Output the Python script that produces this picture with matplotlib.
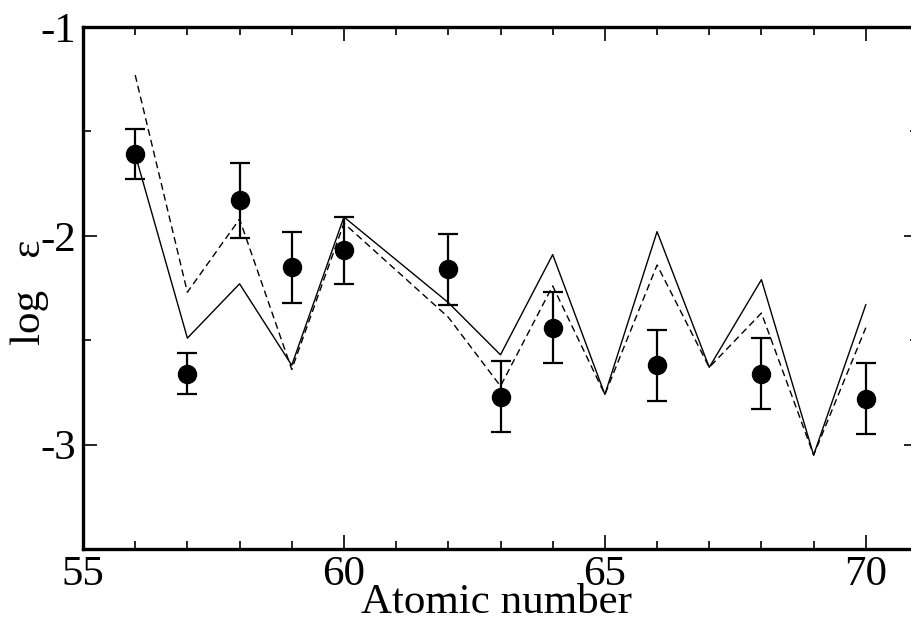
import matplotlib
matplotlib.use("Agg")
import matplotlib.pyplot as plt
from matplotlib.ticker import MultipleLocator

z_model = [56, 57, 58, 59, 60, 62, 63, 64, 65, 66, 67, 68, 69, 70]
model_solid = [-1.61, -2.49, -2.23, -2.62, -1.91, -2.32, -2.57, -2.09, -2.76, -1.98, -2.63, -2.21, -3.05, -2.33]
model_dashed = [-1.23, -2.27, -1.92, -2.64, -1.94, -2.39, -2.72, -2.24, -2.76, -2.14, -2.63, -2.37, -3.05, -2.44]

z_obs = [56, 57, 58, 59, 60, 62, 63, 64, 66, 68, 70]
obs = [-1.61, -2.66, -1.83, -2.15, -2.07, -2.16, -2.77, -2.44, -2.62, -2.66, -2.78]
obs_err = [0.12, 0.10, 0.18, 0.17, 0.16, 0.17, 0.17, 0.17, 0.17, 0.17, 0.17]

x_ticks = [55, 60, 65, 70]
y_ticks = [-1, -2, -3]

plt.rcParams['font.family'] = ['Liberation Serif', 'DejaVu Serif']

fig = plt.figure(figsize=(9.12, 6.28), dpi=100)
ax = fig.add_axes([83/912, 1-549/628, (918-83)/912, (549-27)/628])

ax.plot(z_model, model_solid, color='black', lw=1.0, ls='-')
ax.plot(z_model, model_dashed, color='black', lw=1.0, ls=(0, (5, 3)))
ax.errorbar(z_obs, obs, yerr=obs_err, fmt='o', color='black', ms=13,
            elinewidth=1.6, capsize=7, capthick=1.6, zorder=5)

ax.set_xlim(55, 71)
ax.set_ylim(-3.5, -1)
ax.set_xticks(x_ticks)
ax.set_yticks(y_ticks)
ax.set_yticklabels(['-1', '-2', '-3'])
ax.xaxis.set_minor_locator(MultipleLocator(1))
ax.yaxis.set_minor_locator(MultipleLocator(0.5))
ax.tick_params(which='both', direction='in', top=True, right=True, width=1.2)
ax.tick_params(which='major', length=10, labelsize=31, pad=5)
ax.tick_params(which='minor', length=6)
for s in ax.spines.values():
    s.set_linewidth(2.4)

ax.set_xlabel('Atomic number', fontsize=31)
ax.xaxis.set_label_coords((497 - 83) / 835, -(613 - 549) / 522)
ax.xaxis.label.set_va('baseline')
ax.set_ylabel('log   ε', fontsize=31)
ax.yaxis.set_label_coords(-(83 - 30) / 835, (549 - 292) / 522)
ax.yaxis.label.set_va('center')

fig.savefig('out.png', dpi=100)
